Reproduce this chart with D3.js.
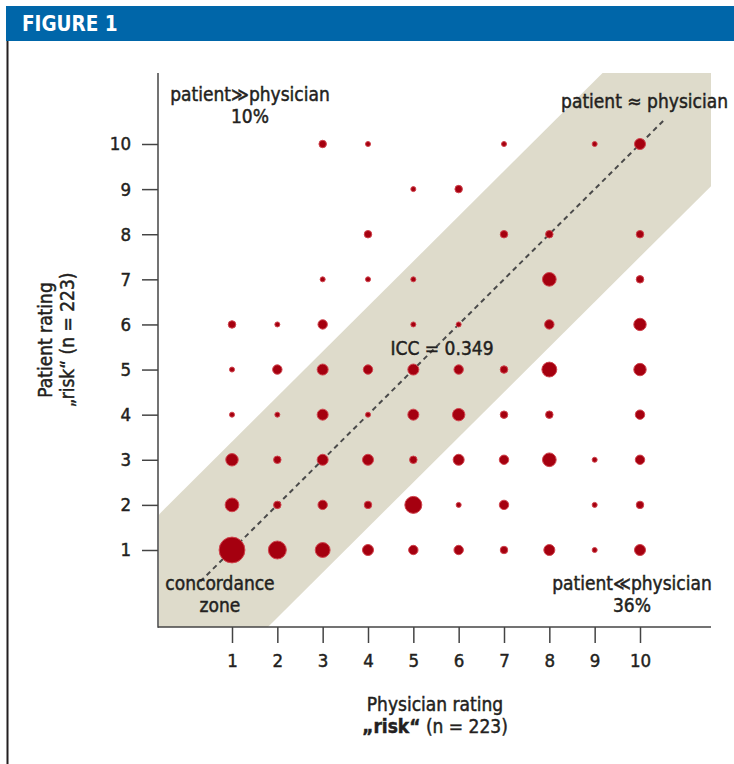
<!DOCTYPE html>
<html>
<head>
<meta charset="utf-8">
<script src="https://cdn.jsdelivr.net/npm/d3@7"></script>
<style>
  html, body { margin: 0; padding: 0; background: #fff; }
  svg { display: block; }
  text { font-family: "Liberation Sans Narrow", "DejaVu Sans Condensed", "Arial Narrow", sans-serif; fill: #231f20; }
  .ink { stroke: #231f20; stroke-width: 0.45px; paint-order: stroke; }
</style>
</head>
<body>
<svg id="chart" width="734" height="764"></svg>
<script>
// Rating scale (1–10) used on both axes
const xTicks = [1, 2, 3, 4, 5, 6, 7, 8, 9, 10];
const yTicks = [1, 2, 3, 4, 5, 6, 7, 8, 9, 10];

// One entry per occupied cell: physician rating, patient rating, number of patients
const physicianRating = [
  3, 4, 7, 9, 10,
  5, 6,
  4, 7, 8, 10,
  3, 4, 5, 8, 10,
  1, 2, 3, 5, 6, 8, 10,
  1, 2, 3, 4, 5, 6, 7, 8, 10,
  1, 2, 3, 4, 5, 6, 7, 8, 10,
  1, 2, 3, 4, 5, 6, 7, 8, 9, 10,
  1, 2, 3, 4, 5, 6, 7, 9, 10,
  1, 2, 3, 4, 5, 6, 7, 8, 9, 10
];
const patientRating = [
  10, 10, 10, 10, 10,
  9, 9,
  8, 8, 8, 8,
  7, 7, 7, 7, 7,
  6, 6, 6, 6, 6, 6, 6,
  5, 5, 5, 5, 5, 5, 5, 5, 5,
  4, 4, 4, 4, 4, 4, 4, 4, 4,
  3, 3, 3, 3, 3, 3, 3, 3, 3, 3,
  2, 2, 2, 2, 2, 2, 2, 2, 2,
  1, 1, 1, 1, 1, 1, 1, 1, 1, 1
];
const patientCount = [
  2, 1, 1, 1, 4,
  1, 2,
  2, 2, 2, 2,
  1, 1, 1, 6, 2,
  2, 1, 3, 1, 1, 3, 5,
  1, 3, 4, 3, 4, 3, 2, 7, 5,
  1, 1, 4, 1, 4, 5, 2, 2, 3,
  5, 2, 4, 4, 2, 4, 3, 6, 1, 3,
  6, 2, 3, 2, 9, 1, 3, 1, 2,
  20, 10, 7, 4, 3, 3, 2, 4, 1, 4
];

// Half-width of the concordance band (rating difference)
const bandUpper = 2.4;
const bandLower = 2.5;

const svg = d3.select("#chart");

// Header strip
svg.append("rect").attr("x", 6).attr("y", 6).attr("width", 728).attr("height", 35).attr("fill", "#0066a9");
svg.append("text").attr("x", 22).attr("y", 31)
  .style("fill", "#fff").style("font-weight", "bold").style("font-size", "20.5px")
  .text("FIGURE 1");
svg.append("line").attr("x1", 7.5).attr("x2", 7.5).attr("y1", 41).attr("y2", 764)
  .attr("stroke", "#231f20").attr("stroke-width", 2);

// Plot frame
const frameLeft = 158, frameRight = 711, frameTop = 73, frameBottom = 627;
const x = d3.scaleLinear().domain([1, 10]).range([232, 640]);
const y = d3.scaleLinear().domain([1, 10]).range([550, 144]);
const r = d3.scaleSqrt().domain([0, 20]).range([0, 3.0 * Math.sqrt(20)]);

const xMin = x.invert(frameLeft + 1), xMax = x.invert(frameRight);
const yMin = y.invert(frameBottom), yMax = y.invert(frameTop);

// Concordance band around the identity line, clipped to the frame
svg.append("clipPath").attr("id", "plotClip")
  .append("rect").attr("x", frameLeft + 1).attr("y", frameTop)
  .attr("width", frameRight - frameLeft - 1).attr("height", frameBottom - frameTop);
const bandPts = [
  [xMin, xMin + bandUpper],
  [yMax - bandUpper, yMax],
  [xMax, yMax],
  [xMax, xMax - bandLower],
  [yMin + bandLower, yMin],
  [xMin, yMin]
];
svg.append("path")
  .attr("clip-path", "url(#plotClip)")
  .attr("d", d3.line().x(d => x(d[0])).y(d => y(d[1]))(bandPts) + "Z")
  .attr("fill", "#dedbcb");

// Identity line
svg.append("line")
  .attr("x1", x(0.3)).attr("y1", y(0.3)).attr("x2", x(10.55)).attr("y2", y(10.55))
  .attr("stroke", "#4a4a4a").attr("stroke-width", 2).attr("stroke-dasharray", "5,4");

// Bubbles
const points = physicianRating.map((px, i) => ({ px, py: patientRating[i], n: patientCount[i] }));
svg.append("g").selectAll("circle").data(points).join("circle")
  .attr("cx", d => x(d.px)).attr("cy", d => y(d.py)).attr("r", d => r(d.n) - 0.5)
  .attr("fill", "#a5000f").attr("stroke", "#d0444e").attr("stroke-width", 1);

// Axes
const xAxis = d3.axisBottom(x).tickValues(xTicks).tickSize(16).tickPadding(11);
const yAxis = d3.axisLeft(y).tickValues(yTicks).tickSize(16).tickPadding(11);

const gx = svg.append("g").attr("transform", `translate(0,${frameBottom})`).call(xAxis);
const gy = svg.append("g").attr("transform", `translate(${frameLeft},0)`).call(yAxis);
gx.select(".domain").remove();
gy.select(".domain").remove();
[gx, gy].forEach(g => {
  g.selectAll(".tick line").attr("stroke", "#444").attr("stroke-width", 1.5);
  g.selectAll(".tick text").attr("class", "ink").style("font-size", "18.5px").style("fill", "#231f20")
    .style("font-family", "'Liberation Sans Narrow', 'DejaVu Sans Condensed', sans-serif");
});
svg.append("line").attr("x1", frameLeft).attr("x2", frameLeft).attr("y1", frameTop).attr("y2", frameBottom + 0.75)
  .attr("stroke", "#444").attr("stroke-width", 1.5);
svg.append("line").attr("x1", frameLeft).attr("x2", frameRight).attr("y1", frameBottom).attr("y2", frameBottom)
  .attr("stroke", "#444").attr("stroke-width", 1.5);

// Annotations
function label(cx, cy, lines, anchor) {
  const t = svg.append("text").attr("class", "ink").attr("text-anchor", anchor || "middle").style("font-size", "19px");
  lines.forEach((ln, i) => t.append("tspan").attr("x", cx).attr("y", cy + i * 22).text(ln));
  return t;
}
label(250, 101, ["patient\u226Bphysician", "10%"]);
label(728, 108, ["patient \u2248 physician"], "end");
label(442, 355, ["ICC = 0.349"]);
label(220, 590, ["concordance", "zone"]);
label(632, 590, ["patient\u226Aphysician", "36%"]);

// Axis titles
const xt = svg.append("text").attr("class", "ink").attr("text-anchor", "middle").style("font-size", "19px");
xt.append("tspan").attr("x", 435).attr("y", 711).text("Physician rating");
const xt2 = svg.append("text").attr("class", "ink").attr("text-anchor", "middle").attr("x", 435).attr("y", 733).style("font-size", "19px");
xt2.append("tspan").style("font-weight", "bold").text("\u201Erisk\u201C");
xt2.append("tspan").text(" (n = 223)");

const yt = svg.append("g").attr("transform", "translate(0,340) rotate(-90)");
yt.append("text").attr("class", "ink").attr("text-anchor", "middle").attr("x", 0).attr("y", 52).style("font-size", "19px").text("Patient rating");
yt.append("text").attr("class", "ink").attr("text-anchor", "middle").attr("x", 0).attr("y", 74).style("font-size", "19px")
  .text("\u201Erisk\u201C (n = 223)");
</script>
</body>
</html>
